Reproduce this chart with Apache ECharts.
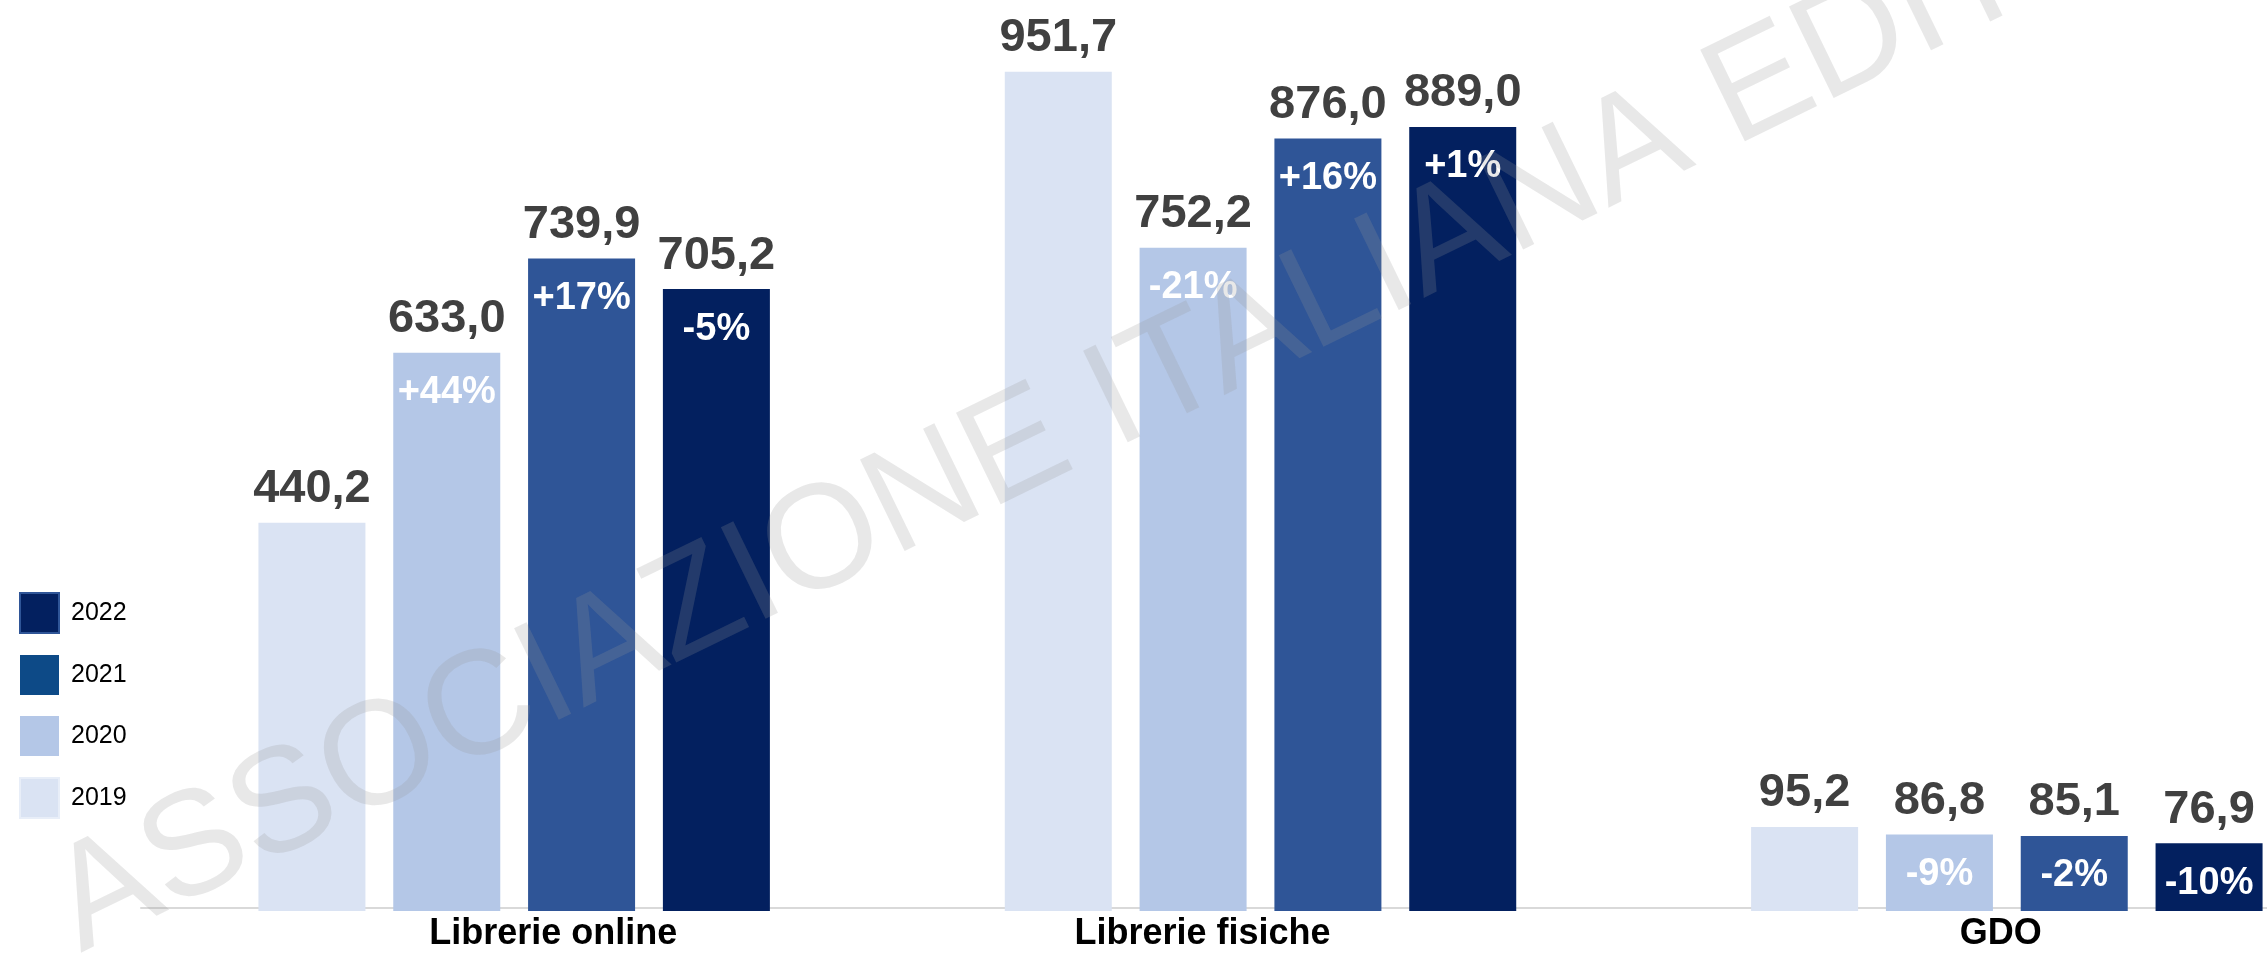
<!DOCTYPE html>
<html>
<head>
<meta charset="utf-8">
<script src="https://cdn.jsdelivr.net/npm/echarts@6/dist/echarts.min.js"></script>
<style>
  html, body { margin: 0; padding: 0; background: #fff; }
  #chart { width: 2267px; height: 956px; }
</style>
</head>
<body>
<div id="chart"></div>
<script>
// dati
var categories = ['Librerie online', 'Librerie fisiche', 'GDO'];
var years = ['2019', '2020', '2021', '2022'];
var v2019 = [440.2, 951.7, 95.2];
var v2020 = [633.0, 752.2, 86.8];
var v2021 = [739.9, 876.0, 85.1];
var v2022 = [705.2, 889.0, 76.9];
var var2020 = ['+44%', '-21%', '-9%'];
var var2021 = ['+17%', '+16%', '-2%'];
var var2022 = ['-5%', '+1%', '-10%'];

var values = [v2019, v2020, v2021, v2022];
var variations = [null, var2020, var2021, var2022];
var colors = ['#dae3f3', '#b4c7e7', '#2f5597', '#03205f'];
var font = "'Liberation Sans', Arial, sans-serif";

var myChart = echarts.init(document.getElementById('chart'));

// spostamento orizzontale delle etichette di categoria
var shift = [[0, 0, 0, 78], [0, 116, 0, 0], [0, 12, 0, 0]];
var catData = categories.map(function (c, i) {
    return { value: c, textStyle: { padding: shift[i] } };
});

var series = [];
// barre con il valore sopra
years.forEach(function (y, i) {
    series.push({
        name: y,
        type: 'bar',
        xAxisIndex: 0,
        barWidth: 107,
        barGap: '26%',
        data: values[i],
        itemStyle: { color: colors[i] },
        label: {
            show: true,
            position: 'top',
            distance: 10,
            color: '#404040',
            fontFamily: font,
            fontWeight: 'bold',
            fontSize: 47,
            formatter: function (p) {
                return p.value.toFixed(1).replace('.', ',');
            }
        }
    });
});
// barre trasparenti sul secondo asse per le variazioni %
years.forEach(function (y, i) {
    series.push({
        name: y,
        type: 'bar',
        xAxisIndex: 1,
        barWidth: 107,
        barGap: '26%',
        silent: true,
        data: values[i],
        itemStyle: { color: 'rgba(0,0,0,0)' },
        label: {
            show: variations[i] !== null,
            position: 'insideTop',
            distance: 21,
            color: '#ffffff',
            fontFamily: font,
            fontWeight: 'bold',
            fontSize: 38,
            formatter: function (p) {
                return variations[i] ? variations[i][p.dataIndex] : '';
            }
        }
    });
});

var option = {
    animation: false,
    backgroundColor: '#ffffff',
    grid: { left: 141, right: -113, top: 0, bottom: 45, containLabel: false, outerBoundsMode: 'none' },
    legend: {
        orient: 'vertical',
        left: 14,
        top: 587,
        icon: 'rect',
        itemWidth: 39,
        itemHeight: 40,
        itemGap: 21,
        textStyle: { fontFamily: font, fontSize: 25, color: '#000', padding: [15, 0, 0, 7] },
        data: [
            { name: '2022', itemStyle: { color: '#03205f', borderColor: '#2f5597', borderWidth: 2 } },
            { name: '2021', itemStyle: { color: '#0d4a87' } },
            { name: '2020', itemStyle: { color: '#b4c7e7' } },
            { name: '2019', itemStyle: { color: '#dae3f3', borderColor: '#e8eef8', borderWidth: 2 } }
        ]
    },
    xAxis: [
        {
            type: 'category',
            data: catData,
            offset: -3,
            axisLine: { lineStyle: { color: '#d9d9d9', width: 2 } },
            axisTick: { show: false },
            axisLabel: {
                margin: 8,
                color: '#000',
                fontFamily: font,
                fontWeight: 'bold',
                fontSize: 36
            }
        },
        {
            type: 'category',
            data: categories,
            position: 'bottom',
            show: false
        }
    ],
    yAxis: { type: 'value', min: 0, max: 1033, show: false, splitLine: { show: false } },
    graphic: [{
        type: 'text',
        x: 1158,
        y: 382,
        rotation: 26 * Math.PI / 180,
        z: 100,
        silent: true,
        style: {
            text: 'ASSOCIAZIONE ITALIANA EDITORI',
            fontSize: 148,
            fontFamily: font,
            fill: 'rgba(150,150,150,0.22)',
            align: 'center',
            verticalAlign: 'middle',
            textAlign: 'center',
            textVerticalAlign: 'middle'
        }
    }],
    series: series
};
myChart.setOption(option);
window.addEventListener('resize', function () { myChart.resize(); });
</script>
</body>
</html>
